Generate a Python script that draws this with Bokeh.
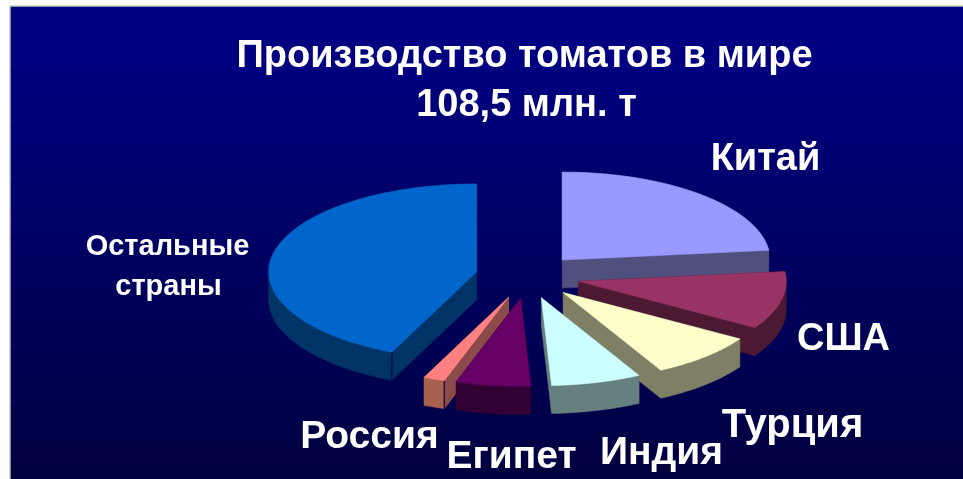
import numpy as np
from bokeh.plotting import figure
from bokeh.embed import file_html
from bokeh.resources import INLINE
from bokeh.core.properties import value

# Tomato production, mln t (total 108.5)
countries = ["Китай", "США", "Турция", "Индия", "Египет", "Россия", "Остальные страны"]
production = [25.2, 11.5, 9.1, 7.6, 6.3, 1.8, 47.0]
top_colors = ["#9999FF", "#993366", "#FFFFCC", "#CCFFFF", "#660066", "#FF8080", "#0066CC"]
side_colors = ["#50507F", "#4C1933", "#7F7F66", "#667F7F", "#330033", "#A8604F", "#003366"]
title_lines = ["Производство томатов в мире", "108,5 млн. т"]

W, H = 963, 479
p = figure(width=W, height=H, x_range=(0, W), y_range=(H, 0), toolbar_location=None,
           output_backend="svg", min_border=0, outline_line_color=None,
           background_fill_color="white", border_fill_color="white")
p.axis.visible = False
p.grid.visible = False
p.styles = {"position": "fixed", "left": "0px", "top": "0px"}

# panel: vertical gradient with a thin grey edge
LEFT, TOP = 10, 6
edges = np.arange(TOP, H + 8, 8)
for y0 in edges:
    t = max(0.0, (y0 - 60) / (H - 60))
    blue = int(round(128 - 66 * t))
    p.quad(left=LEFT, right=W, top=int(y0), bottom=int(y0) + 9, fill_color=f"#0000{blue:02X}", line_color=None)
p.line([LEFT - 0.5, LEFT - 0.5, W], [H, TOP - 0.5, TOP - 0.5], line_color="#A9A9A0", line_width=1)

# exploded 3-D pie
CX, CY, RX, RY, EXPLODE, DEPTH = 527.0, 276.0, 208.0, 88.0, 52.0, 28.0


def hull(pts):
    pts = sorted(set(pts))
    def half(seq):
        out = []
        for q in seq:
            while len(out) > 1 and ((out[-1][0] - out[-2][0]) * (q[1] - out[-2][1])
                                    - (out[-1][1] - out[-2][1]) * (q[0] - out[-2][0])) <= 0:
                out.pop()
            out.append(q)
        return out[:-1]
    return half(pts) + half(pts[::-1])


fracs = np.array(production) / sum(production) * 2 * np.pi
starts = np.concatenate([[0], np.cumsum(fracs)[:-1]])
# back-to-front painting order
draw_order = [countries.index(n) for n in
              ["Остальные страны", "Китай", "США", "Турция", "Индия", "Россия", "Египет"]]
for i in draw_order:
    name = countries[i]
    a0, a1 = starts[i], starts[i] + fracs[i]
    mid = (a0 + a1) / 2
    ax = CX + EXPLODE * np.sin(mid)
    ay = CY - EXPLODE * RY / RX * np.cos(mid)
    ang = np.linspace(a0, a1, 60)
    xs = np.concatenate([[ax], ax + RX * np.sin(ang)])
    ys = np.concatenate([[ay], ay - RY * np.cos(ang)])
    pts = [(float(a), float(b)) for a, b in zip(xs, ys)] + [(float(a), float(b) + DEPTH) for a, b in zip(xs, ys)]
    h = hull(pts)
    p.patch([q[0] for q in h], [q[1] for q in h], fill_color=side_colors[i], line_color=side_colors[i], line_width=0.5)
    sx, sy = ax + RX * np.sin(a0), ay - RY * np.cos(a0)
    if name == "Россия":
        p.patch([sx, ax, ax, sx], [sy, ay, ay + DEPTH, sy + DEPTH], fill_color="#8B4B4B", line_color=None)
    if name in ("Россия", "Остальные страны"):
        p.line([sx, sx], [sy, sy + DEPTH], line_color="#00004A", line_width=1.2)
    p.patch(xs, ys, fill_color=top_colors[i], line_color=top_colors[i], line_width=0.5)

# texts
p.text(x=[524, 526], y=[53, 102], text=title_lines, text_color="white", text_align="center",
       text_baseline="alphabetic", text_font=value("Liberation Sans"), text_font_style="bold",
       text_font_size="38px")
label_x = [765, 843, 792, 661, 511, 369]
label_y = [156, 336, 422, 450, 454, 434]
label_size = ["38px", "38px", "40px", "39px", "39px", "39px"]
for t, x, y, s in zip(countries[:6], label_x, label_y, label_size):
    p.text(x=[x], y=[y], text=[t], text_color="white", text_align="center", text_baseline="alphabetic",
           text_font=value("Liberation Sans"), text_font_style="bold", text_font_size=s)
p.text(x=[167, 168], y=[244, 284], text=countries[6].split(), text_color="white", text_align="center",
       text_baseline="alphabetic", text_font=value("Liberation Sans"), text_font_style="bold",
       text_font_size="29px")

open("out.html", "w").write(file_html(p, INLINE))
